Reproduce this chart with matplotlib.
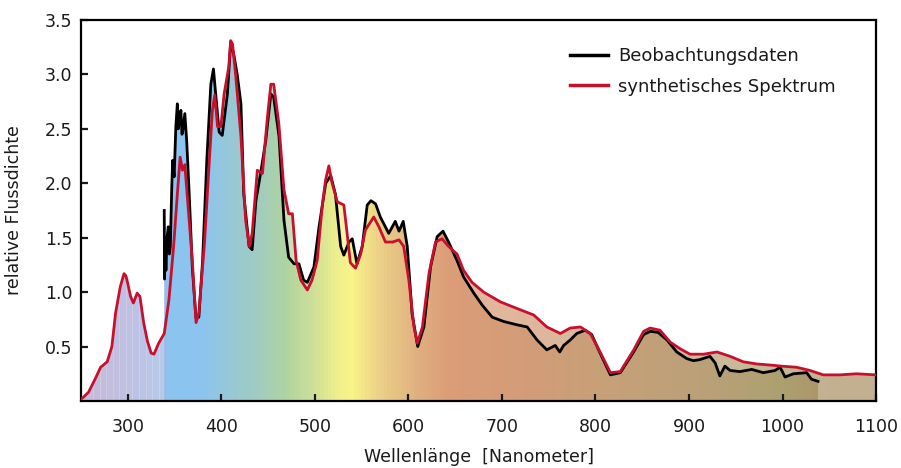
import numpy as np
import matplotlib
matplotlib.use("Agg")
import matplotlib.pyplot as plt
from matplotlib.patches import Polygon
from matplotlib.colors import to_rgb

# synthetic spectrum (nm, relative flux)
syn_nm = [250, 252, 258, 265, 271, 278, 283, 287, 292, 296, 298, 300, 303, 306, 310, 313,
          317, 321, 325, 328, 333, 339, 344, 349, 353, 356, 358.5, 361, 364, 369, 373, 376,
          382, 387, 390.5, 393, 396, 399.5, 403, 408, 410, 412, 415.5, 421, 426, 430, 433,
          438.5, 444, 449, 453, 456, 461.5, 467, 472, 476, 480, 485, 492, 497, 502.5, 508,
          511.5, 515, 518.5, 524, 531, 534.5, 538, 543.5, 549, 554, 563, 568.5, 575.5, 583,
          590, 595, 600.5, 606, 609.5, 615, 622, 629, 636, 643, 652, 659, 668, 680.5, 698.5,
          716, 734, 748, 762.5, 773, 784, 794.5, 805, 816, 826.5, 841, 851.5, 858.5, 869,
          880, 890.5, 901, 915.5, 930, 944, 958, 972.5, 987, 999, 1015, 1029.5, 1043.5,
          1061.5, 1079, 1100]
syn_flux = [0.02, 0.03, 0.08, 0.20, 0.31, 0.36, 0.50, 0.81, 1.05, 1.17, 1.15, 1.08, 0.96, 0.90,
            0.99, 0.96, 0.72, 0.55, 0.44, 0.43, 0.53, 0.62, 0.93, 1.42, 1.90, 2.24, 2.12, 2.17,
            1.84, 1.29, 0.72, 0.81, 1.45, 2.18, 2.67, 2.81, 2.52, 2.52, 2.82, 3.07, 3.31, 3.28,
            2.98, 2.43, 1.66, 1.42, 1.54, 2.12, 2.09, 2.58, 2.91, 2.91, 2.55, 1.94, 1.72, 1.72,
            1.29, 1.11, 1.02, 1.11, 1.29, 1.80, 2.03, 2.16, 2.00, 1.83, 1.80, 1.54, 1.27, 1.22,
            1.35, 1.57, 1.69, 1.60, 1.46, 1.46, 1.48, 1.42, 1.11, 0.68, 0.53, 0.68, 1.17, 1.46,
            1.49, 1.42, 1.35, 1.20, 1.09, 1.00, 0.91, 0.85, 0.79, 0.68, 0.62, 0.67, 0.68, 0.62,
            0.45, 0.26, 0.27, 0.47, 0.64, 0.67, 0.65, 0.54, 0.48, 0.43, 0.43, 0.45, 0.41, 0.36,
            0.34, 0.33, 0.32, 0.31, 0.28, 0.24, 0.24, 0.25, 0.24]

# observed spectrum
obs_nm = [339, 339.3, 340, 340.8, 342, 343.3, 344.5, 345.5, 347, 348, 349.6, 351.4, 353, 354,
          355, 356.8, 358, 359, 361, 363, 365.7, 369, 372.8, 376, 380, 384.5, 388.8, 391.6,
          394, 397.7, 401, 406.5, 410, 413, 417, 421, 424, 429.7, 433, 437, 442, 447.5, 453,
          456, 461.7, 467, 472, 477.8, 483, 488, 492, 499, 504.5, 511.6, 517, 522, 527.6, 531,
          536.5, 540, 545, 550.7, 556, 560, 565, 570, 579, 586, 590, 594.5, 598.8, 604, 610,
          616.6, 623.7, 630.8, 637, 643, 652, 659, 670, 679, 689.6, 702, 716, 727, 737.6, 748,
          757, 761.8, 766, 773, 780, 789, 796, 805, 816, 826.6, 840.8, 851.5, 858.6, 867,
          876.5, 887, 897.5, 904.6, 911.7, 922.4, 928, 933, 938.4, 944, 954.6, 967, 979.5,
          992, 997.4, 1002.7, 1011.6, 1025.8, 1031, 1038]
obs_flux = [1.75, 1.12, 1.45, 1.20, 1.50, 1.60, 1.35, 1.42, 1.95, 2.21, 2.06, 2.52, 2.73, 2.50,
            2.55, 2.67, 2.45, 2.49, 2.64, 2.39, 1.90, 1.23, 0.77, 0.77, 1.29, 2.21, 2.91, 3.05,
            2.82, 2.47, 2.44, 2.82, 3.29, 3.20, 3.00, 2.73, 1.90, 1.42, 1.39, 1.84, 2.09, 2.39,
            2.82, 2.79, 2.43, 1.66, 1.32, 1.26, 1.26, 1.11, 1.09, 1.23, 1.60, 2.00, 2.07, 1.90,
            1.42, 1.34, 1.46, 1.49, 1.26, 1.42, 1.80, 1.84, 1.81, 1.69, 1.54, 1.65, 1.56, 1.65,
            1.42, 0.80, 0.50, 0.68, 1.23, 1.51, 1.56, 1.46, 1.29, 1.14, 0.99, 0.88, 0.77, 0.73,
            0.70, 0.68, 0.56, 0.47, 0.51, 0.45, 0.51, 0.56, 0.62, 0.65, 0.61, 0.44, 0.24, 0.26,
            0.45, 0.61, 0.64, 0.63, 0.56, 0.45, 0.39, 0.37, 0.38, 0.41, 0.35, 0.23, 0.32, 0.28,
            0.27, 0.29, 0.26, 0.28, 0.31, 0.22, 0.25, 0.26, 0.20, 0.18]

# background colour keyed to wavelength
col_nm = [250, 300, 338, 342, 380, 410, 440, 470, 500, 525, 540, 570, 610, 645, 720, 800, 910, 1000, 1050, 1100]
col_hex = ['#b4a0c8', '#a8aad8', '#9cb6e2', '#8cc4f0', '#8cc4f0', '#98c8d8', '#a0ccc0', '#b0d4a0',
           '#d0e098', '#f0f08c', '#f8f488', '#ecd088', '#e0b080', '#dc9c78', '#d49c78', '#c8a078',
           '#bca078', '#aca070', '#ae9468', '#ae9468']

red = '#c8102e'

fig = plt.figure(figsize=(9.01, 4.68), dpi=100)
ax = fig.add_axes([0.0899, 0.1432, 0.8824, 0.8141])
xlo, xhi, ylo, yhi = 250, 1100, 0, 3.5

# gradient image, stepped a little to mimic the banding
grid = np.arange(xlo, xhi, 4) + 2
rgb = np.array([to_rgb(c) for c in col_hex])
full = np.stack([np.interp(grid, col_nm, rgb[:, k]) for k in range(3)], axis=-1)[None, :, :]
light = full * 0.73 + 0.27

syn_poly = Polygon(list(zip([syn_nm[0]] + syn_nm + [syn_nm[-1]], [0] + syn_flux + [0])),
                   closed=True, facecolor='none', edgecolor='none', transform=ax.transData)
obs_poly = Polygon(list(zip([obs_nm[0]] + obs_nm + [obs_nm[-1]], [0] + obs_flux + [0])),
                   closed=True, facecolor='none', edgecolor='none', transform=ax.transData)
ax.add_patch(syn_poly)
ax.add_patch(obs_poly)

im1 = ax.imshow(light, extent=(xlo, xhi, ylo, yhi), aspect='auto', interpolation='nearest', zorder=1)
im1.set_clip_path(syn_poly)
im2 = ax.imshow(full, extent=(xlo, xhi, ylo, yhi), aspect='auto', interpolation='nearest', zorder=1.1)
im2.set_clip_path(obs_poly)

# faint stripes in the UV part
for s in np.arange(263, 338, 7):
    ln = ax.axvline(s, color='white', lw=0.7, alpha=0.2, zorder=1.2)
    ln.set_clip_path(syn_poly)

ax.plot(obs_nm, obs_flux, color='black', lw=2.0, zorder=3, label='Beobachtungsdaten',
        solid_joinstyle='round')
ax.plot(syn_nm, syn_flux, color=red, lw=2.0, zorder=4, label='synthetisches Spektrum',
        solid_joinstyle='round')

ax.set_xlim(xlo, xhi)
ax.set_ylim(ylo, yhi)
ax.set_xticks(np.arange(300, 1101, 100))
ax.set_yticks([0.5, 1.0, 1.5, 2.0, 2.5, 3.0, 3.5])
ax.set_yticklabels(['0.5', '1.0', '1.5', '2.0', '2.5', '3.0', '3.5'])
ax.tick_params(direction='in', length=5, width=1.6, labelsize=12.5, colors='#1a1a1a', pad=6)
ax.tick_params(axis='x', pad=12)
for sp in ax.spines.values():
    sp.set_linewidth(1.6)

ax.set_xlabel('Wellenlänge  [Nanometer]', fontsize=12.5, labelpad=9, color='#1a1a1a')
ax.set_ylabel('relative Flussdichte', fontsize=12.5, labelpad=16, color='#1a1a1a')

leg = ax.legend(loc='upper left', bbox_to_anchor=(0.615, 0.928), frameon=False, fontsize=13,
                handlelength=2.1, handletextpad=0.55, labelspacing=0.68, borderpad=0, borderaxespad=0)
for h in leg.get_lines():
    h.set_linewidth(2.5)
for t in leg.get_texts():
    t.set_color('#1a1a1a')

fig.savefig('out.png', dpi=100)
